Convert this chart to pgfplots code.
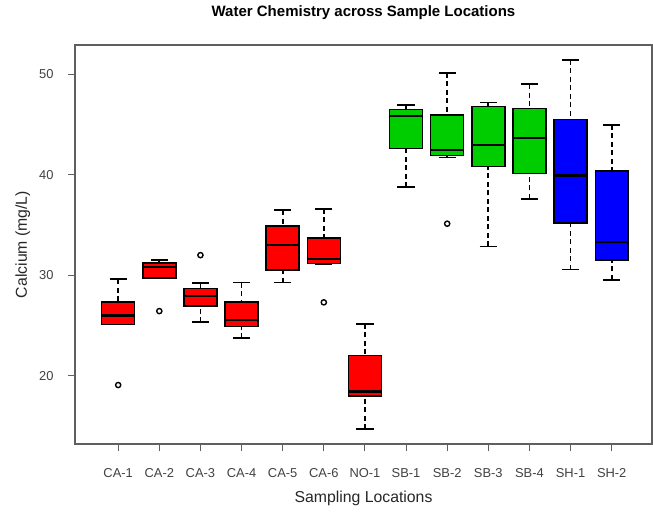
\documentclass[border=0pt]{standalone}
\usepackage{pgfplots}
\pgfplotsset{compat=1.18}
\usepgfplotslibrary{statistics}
\usepackage{fontspec}
\setmainfont{Liberation Sans}
\definecolor{boxred}{RGB}{255,0,0}
\definecolor{boxgreen}{RGB}{0,205,0}
\definecolor{boxblue}{RGB}{0,0,255}
\definecolor{framegray}{RGB}{95,95,95}
\definecolor{labgray}{RGB}{65,65,65}
\pgfplotsset{
  rbox/.style={
    boxplot/every box/.style={fill=#1, draw=black, line width=1.5bp},
    boxplot/every median/.style={draw=black, line width=2.2bp},
    mark=o, mark size=2.6bp, mark options={black, solid, line width=1.4bp},
    draw=black, line width=1.5bp,
  },
}
\begin{document}
\begin{tikzpicture}
\path[use as bounding box] (0,0) rectangle (653bp,512bp);
\begin{axis}[
  at={(75bp,68bp)}, anchor=south west,
  width=577bp, height=399bp, scale only axis,
  xmin=-0.05, xmax=13.98, ymin=13.2, ymax=52.92,
  xtick={1,2,3,4,5,6,7,8,9,10,11,12,13},
  xticklabels={CA-1,CA-2,CA-3,CA-4,CA-5,CA-6,NO-1,SB-1,SB-2,SB-3,SB-4,SH-1,SH-2},
  ytick={20,30,40,50},
  tick align=outside, xtick pos=left, ytick pos=left,
  major tick length=7bp,
  tick style={framegray, line width=1bp},
  axis line style={framegray, line width=1.3bp},
  /pgf/number format/assume math mode=true,
  ticklabel style={font=\fontsize{12.9bp}{14bp}\selectfont, text=labgray, inner sep=0pt},
  xticklabel style={anchor=base, yshift=-26.7bp},
  yticklabel style={anchor=east, xshift=-14.3bp},
  title={Water Chemistry across Sample Locations},
  title style={font=\bfseries\fontsize{15bp}{18bp}\selectfont, at={(axis description cs:0.5,1.056)}, anchor=base, inner sep=0pt},
  xlabel={Sampling Locations},
  xlabel style={font=\fontsize{15.8bp}{18bp}\selectfont, text=black!85, at={(axis description cs:0.5,-0.147)}, anchor=base, inner sep=0pt},
  ylabel={Calcium (mg/L)},
  ylabel style={font=\fontsize{15.8bp}{18bp}\selectfont, text=black!85, at={(axis description cs:-0.0906,0.5)}, anchor=center, rotate=0, inner sep=0pt},
  boxplot/draw direction=y,
  boxplot/box extend=0.8,
  boxplot/whisker extend=0.42,
  boxplot/draw/lower whisker/.code={
    \draw[black, line width=1.7bp, dash pattern=on 5bp off 3.5bp]
      (boxplot box cs:\pgfplotsboxplotvalue{lower whisker},0.5) --
      (boxplot box cs:\pgfplotsboxplotvalue{lower quartile},0.5);
    \draw[black, line width=1.8bp, solid]
      (boxplot whisker cs:\pgfplotsboxplotvalue{lower whisker},0) --
      (boxplot whisker cs:\pgfplotsboxplotvalue{lower whisker},1);
  },
  boxplot/draw/upper whisker/.code={
    \draw[black, line width=1.7bp, dash pattern=on 5bp off 3.5bp]
      (boxplot box cs:\pgfplotsboxplotvalue{upper whisker},0.5) --
      (boxplot box cs:\pgfplotsboxplotvalue{upper quartile},0.5);
    \draw[black, line width=1.8bp, solid]
      (boxplot whisker cs:\pgfplotsboxplotvalue{upper whisker},0) --
      (boxplot whisker cs:\pgfplotsboxplotvalue{upper whisker},1);
  },
]
% CA-1
\addplot[rbox=boxred, boxplot prepared={draw position=1, lower whisker=25.1, lower quartile=25.1, median=26.0, upper quartile=27.33, upper whisker=29.6}] coordinates {(0,19.07)};
% CA-2
\addplot[rbox=boxred, boxplot prepared={draw position=2, lower whisker=29.7, lower quartile=29.7, median=30.83, upper quartile=31.23, upper whisker=31.5}] coordinates {(0,26.43)};
% CA-3
\addplot[rbox=boxred, boxplot prepared={draw position=3, lower whisker=25.33, lower quartile=26.93, median=27.9, upper quartile=28.7, upper whisker=29.2}] coordinates {(0,32.0)};
% CA-4
\addplot[rbox=boxred, boxplot prepared={draw position=4, lower whisker=23.73, lower quartile=24.9, median=25.57, upper quartile=27.33, upper whisker=29.27}] coordinates {};
% CA-5
\addplot[rbox=boxred, boxplot prepared={draw position=5, lower whisker=29.27, lower quartile=30.53, median=33.0, upper quartile=34.9, upper whisker=36.47}] coordinates {};
% CA-6
\addplot[rbox=boxred, boxplot prepared={draw position=6, lower whisker=31.12, lower quartile=31.17, median=31.6, upper quartile=33.7, upper whisker=36.6}] coordinates {(0,27.3)};
% NO-1
\addplot[rbox=boxred, boxplot prepared={draw position=7, lower whisker=14.67, lower quartile=17.97, median=18.43, upper quartile=22.0, upper whisker=25.17}] coordinates {};
% SB-1
\addplot[rbox=boxgreen, boxplot prepared={draw position=8, lower whisker=38.77, lower quartile=42.63, median=45.83, upper quartile=46.5, upper whisker=46.93}] coordinates {};
% SB-2
\addplot[rbox=boxgreen, boxplot prepared={draw position=9, lower whisker=41.73, lower quartile=41.93, median=42.43, upper quartile=45.93, upper whisker=50.17}] coordinates {(0,35.13)};
% SB-3
\addplot[rbox=boxgreen, boxplot prepared={draw position=10, lower whisker=32.87, lower quartile=40.83, median=43.0, upper quartile=46.8, upper whisker=47.2}] coordinates {};
% SB-4
\addplot[rbox=boxgreen, boxplot prepared={draw position=11, lower whisker=37.6, lower quartile=40.13, median=43.7, upper quartile=46.6, upper whisker=49.0}] coordinates {};
% SH-1
\addplot[rbox=boxblue, boxplot prepared={draw position=12, lower whisker=30.57, lower quartile=35.2, median=39.93, upper quartile=45.5, upper whisker=51.43}] coordinates {};
% SH-2
\addplot[rbox=boxblue, boxplot prepared={draw position=13, lower whisker=29.53, lower quartile=31.53, median=33.27, upper quartile=40.37, upper whisker=44.97}] coordinates {};
\end{axis}
\end{tikzpicture}
\end{document}
